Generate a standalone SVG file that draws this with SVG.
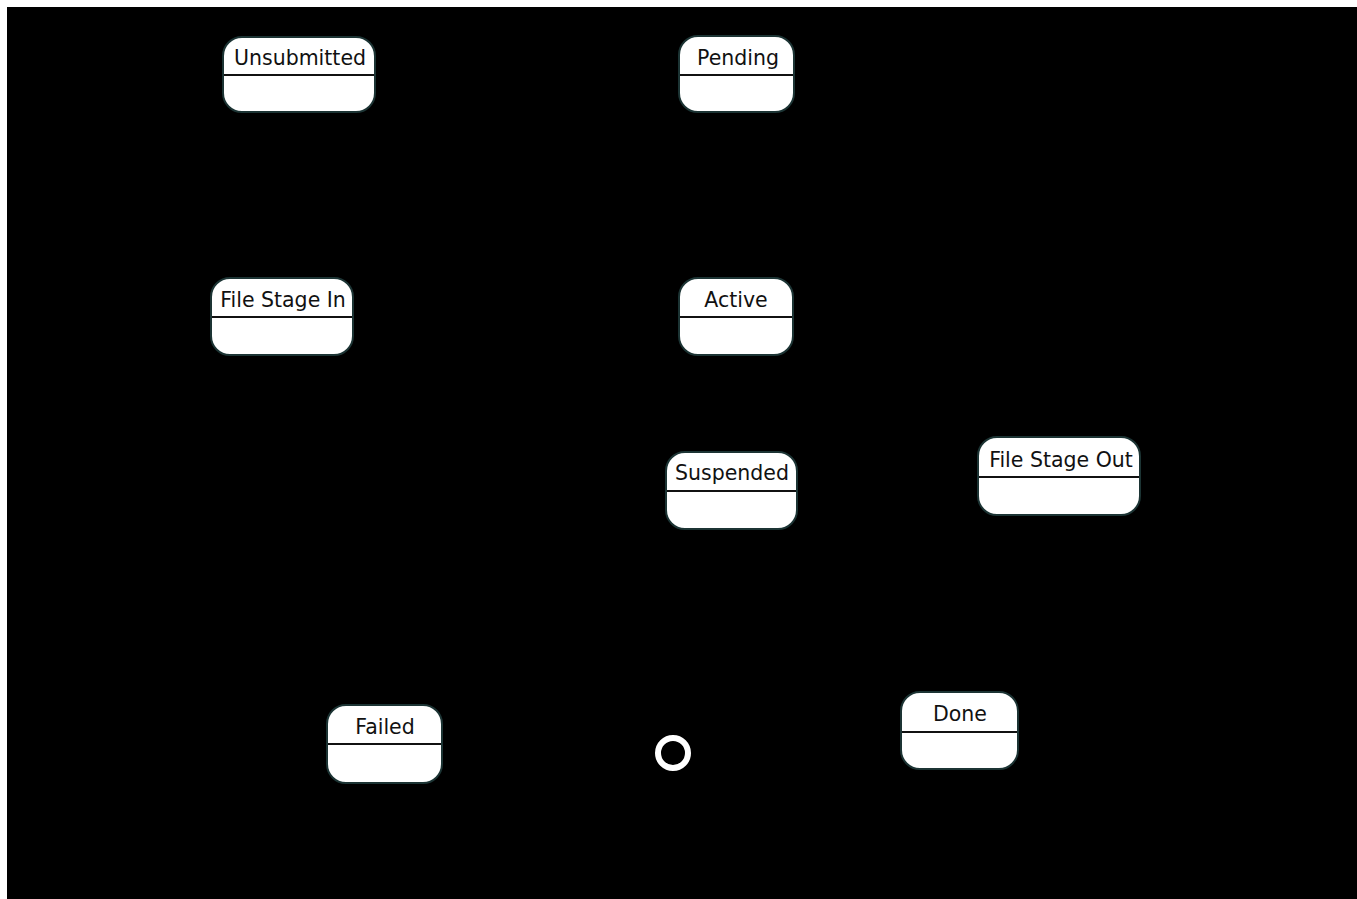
<svg xmlns="http://www.w3.org/2000/svg" width="1357" height="899" viewBox="0 0 1357 899">
  <style>
    .box { fill: #ffffff; stroke: #1c3434; stroke-width: 2; }
    .div { stroke: #111111; stroke-width: 2; }
    .lbl { font-family: "DejaVu Sans", "Liberation Sans", sans-serif; font-size: 20.5px; fill: #111111; text-anchor: middle; }
    .end { fill: none; stroke: #ffffff; stroke-width: 6; }
  </style>
  <rect x="0" y="0" width="1357" height="899" fill="#ffffff"/>
  <rect x="7" y="7" width="1350" height="892" fill="#000000"/>
  <g id="connectors"></g>
  <g id="unsubmitted">
    <rect class="box" x="223" y="37" width="152" height="75" rx="19"/>
    <line class="div" x1="224" y1="75" x2="374" y2="75"/>
    <text class="lbl" x="300" y="65">Unsubmitted</text>
  </g>
  <g id="pending">
    <rect class="box" x="679" y="36" width="115" height="76" rx="19"/>
    <line class="div" x1="680" y1="75" x2="793" y2="75"/>
    <text class="lbl" x="738" y="65">Pending</text>
  </g>
  <g id="filestagein">
    <rect class="box" x="211" y="278" width="142" height="77" rx="19"/>
    <line class="div" x1="212" y1="317" x2="352" y2="317"/>
    <text class="lbl" x="283" y="307">File Stage In</text>
  </g>
  <g id="active">
    <rect class="box" x="679" y="278" width="114" height="77" rx="19"/>
    <line class="div" x1="680" y1="317" x2="792" y2="317"/>
    <text class="lbl" x="736" y="307">Active</text>
  </g>
  <g id="suspended">
    <rect class="box" x="666" y="452" width="131" height="77" rx="19"/>
    <line class="div" x1="667" y1="491" x2="796" y2="491"/>
    <text class="lbl" x="732" y="480">Suspended</text>
  </g>
  <g id="filestageout">
    <rect class="box" x="978" y="437" width="162" height="78" rx="19"/>
    <line class="div" x1="979" y1="477" x2="1139" y2="477"/>
    <text class="lbl" x="1061" y="467">File Stage Out</text>
  </g>
  <g id="failed">
    <rect class="box" x="327" y="705" width="115" height="78" rx="19"/>
    <line class="div" x1="328" y1="744" x2="441" y2="744"/>
    <text class="lbl" x="385" y="734">Failed</text>
  </g>
  <g id="done">
    <rect class="box" x="901" y="692" width="117" height="77" rx="19"/>
    <line class="div" x1="902" y1="732" x2="1017" y2="732"/>
    <text class="lbl" x="960" y="721">Done</text>
  </g>
  <g id="final">
    <circle class="end" cx="673" cy="753" r="15"/>
  </g>
</svg>
